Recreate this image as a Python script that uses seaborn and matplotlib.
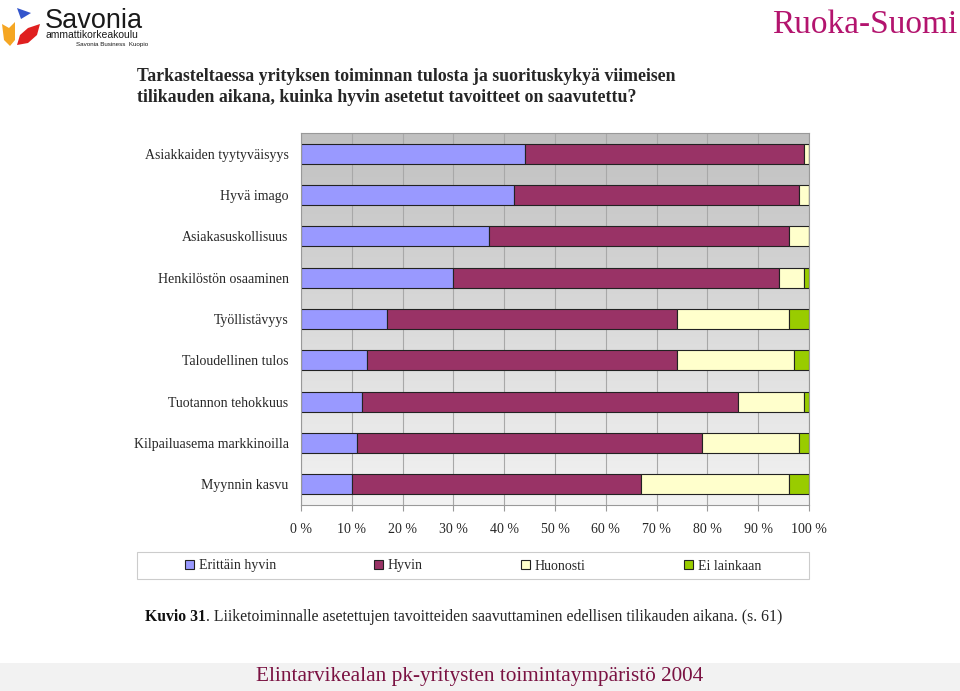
import numpy as np
import pandas as pd
import matplotlib
matplotlib.use("Agg")
import matplotlib.pyplot as plt
from matplotlib.patches import Patch, Polygon, Rectangle
from matplotlib.colors import LinearSegmentedColormap
import seaborn as sns

# ---------------- data ----------------
categories = ["Asiakkaiden tyytyväisyys", "Hyvä imago", "Asiakasuskollisuus",
              "Henkilöstön osaaminen", "Työllistävyys", "Taloudellinen tulos",
              "Tuotannon tehokkuus", "Kilpailuasema markkinoilla", "Myynnin kasvu"]
responses = ["Erittäin hyvin", "Hyvin", "Huonosti", "Ei lainkaan"]
erittain_hyvin = [44, 42, 37, 30, 17, 13, 12, 11, 10]
hyvin = [55, 56, 59, 64, 57, 61, 74, 68, 57]
huonosti = [1, 2, 4, 5, 22, 23, 13, 19, 29]
ei_lainkaan = [0, 0, 0, 1, 4, 3, 1, 2, 4]
x_tick_values = [0, 10, 20, 30, 40, 50, 60, 70, 80, 90, 100]
x_tick_labels = [f"{v} %" for v in x_tick_values]
colors = ["#9999FF", "#993366", "#FFFFCC", "#99CC00"]

title_lines = ["Tarkasteltaessa yrityksen toiminnan tulosta ja suorituskykyä viimeisen",
               "tilikauden aikana, kuinka hyvin asetetut tavoitteet on saavutettu?"]
caption_head = "Kuvio 31"
caption_tail = ". Liiketoiminnalle asetettujen tavoitteiden saavuttaminen edellisen tilikauden aikana. (s. 61)"
footer_text = "Elintarvikealan pk-yritysten toimintaympäristö 2004"

series = [erittain_hyvin, hyvin, huonosti, ei_lainkaan]
rows = []
for resp, vals in zip(responses, series):
    for cat, v in zip(categories, vals):
        rows.append({"Kategoria": cat, "Vastaus": resp, "Osuus": v})
df = pd.DataFrame(rows)
palette = dict(zip(responses, colors))

# ---------------- style ----------------
sns.set_style("white")
plt.rcParams["font.family"] = ["Liberation Serif", "DejaVu Serif"]

W, H = 960, 691
fig = plt.figure(figsize=(W / 100, H / 100), dpi=100)

# overlay in pixel coordinates for decorations
oax = fig.add_axes([0, 0, 1, 1])
oax.set_xlim(0, W)
oax.set_ylim(H, 0)
oax.axis("off")

ax = fig.add_axes([301 / W, 1 - 505 / H, 508 / W, 372 / H])

# seaborn stacks the hue levels so that the last level sits at the baseline
sns.histplot(data=df, y="Kategoria", weights="Osuus", hue="Vastaus",
             hue_order=responses[::-1], palette=palette, multiple="stack",
             discrete=True, shrink=0.49, alpha=1, edgecolor="#222222",
             linewidth=0.8, legend=False, ax=ax)

n = len(categories)
# gradient plot background
cmap = LinearSegmentedColormap.from_list("bg", ["#c0c0c0", "#f3f3f3"])
ax.imshow(np.linspace(0, 1, 256).reshape(-1, 1), cmap=cmap, aspect="auto",
          extent=(0, 100, n - 0.5, -0.5), zorder=0, interpolation="bilinear")
ax.set_xlim(0, 100)
ax.set_ylim(n - 0.5, -0.5)
ax.set_xticks(x_tick_values, labels=x_tick_labels)
ax.set_yticks(range(n), labels=categories)
ax.set_yticks(np.arange(-0.5, n, 1.0), minor=True)
ax.tick_params(axis="y", which="major", length=0, pad=9, labelsize=10)
ax.tick_params(axis="y", which="minor", length=4, color="#999999", width=0.8)
ax.tick_params(axis="x", length=4, color="#999999", width=0.8, pad=9,
               labelsize=10, direction="out", bottom=True)
ax.set_xlabel("")
ax.set_ylabel("")
ax.grid(axis="x", color="#a8a8a8", linewidth=0.8)
ax.grid(axis="y", visible=False)
ax.set_axisbelow(True)
for sp in ax.spines.values():
    sp.set_color("#999999")
    sp.set_linewidth(0.8)

# ---------------- title ----------------
oax.text(137, 76, title_lines[0], fontsize=12.8, fontweight="bold", va="center", ha="left")
oax.text(137, 97, title_lines[1], fontsize=12.8, fontweight="bold", va="center", ha="left")

# ---------------- legend ----------------
oax.add_patch(Rectangle((137, 552), 672, 27, facecolor="white",
                        edgecolor="#cccccc", linewidth=0.8))
centers = [231, 398, 553, 723]
for resp, cx in zip(responses, centers):
    fig.legend(handles=[Patch(facecolor=palette[resp], edgecolor="#222222", linewidth=0.8)],
               labels=[resp], loc="center",
               bbox_to_anchor=(cx / W, 1 - 566 / H), frameon=False,
               handlelength=0.65, handleheight=0.65, handletextpad=0.35,
               fontsize=10, borderpad=0, borderaxespad=0)

# ---------------- caption ----------------
t_head = oax.text(145, 617, caption_head, fontsize=11.3, fontweight="bold",
                  va="center", ha="left", color="#111111")
fig.canvas.draw()
bb = t_head.get_window_extent(fig.canvas.get_renderer())
x_end = oax.transData.inverted().transform((bb.x1, bb.y0))[0]
oax.text(x_end, 617, caption_tail, fontsize=11.3, va="center", ha="left")

# ---------------- footer ----------------
oax.add_patch(Rectangle((0, 663), W, 28, facecolor="#f2f2f2", edgecolor="none"))
oax.text(480, 677, footer_text, fontsize=15.3, color="#7a1242",
         va="center", ha="center")

# ---------------- header logos ----------------
oax.text(957, 25, "Ruoka-Suomi", fontsize=24, color="#b3146e", va="center", ha="right")
oax.text(45, 28, "Savonia", fontsize=19.5, family="Liberation Sans", color="#1a1a1a",
         va="baseline", ha="left")
oax.text(46, 38, "ammattikorkeakoulu", fontsize=7.5, family="Liberation Sans",
         color="#1a1a1a", va="baseline", ha="left")
oax.text(76, 45.5, "Savonia Business  Kuopio", fontsize=4.5, family="Liberation Sans",
         color="#1a1a1a", va="baseline", ha="left")
oax.add_patch(Polygon([(17, 8), (31, 13), (21, 19)], closed=True,
                      facecolor="#3355cc", edgecolor="none"))
oax.add_patch(Polygon([(2, 24), (9, 28), (15, 22), (15, 40), (10, 46), (4, 40)],
                      closed=True, facecolor="#f5a623", edgecolor="none"))
oax.add_patch(Polygon([(17, 45), (20, 35), (28, 28), (40, 24), (37, 35), (28, 43)],
                      closed=True, facecolor="#e02020", edgecolor="none"))

fig.savefig("out.png", dpi=100)
